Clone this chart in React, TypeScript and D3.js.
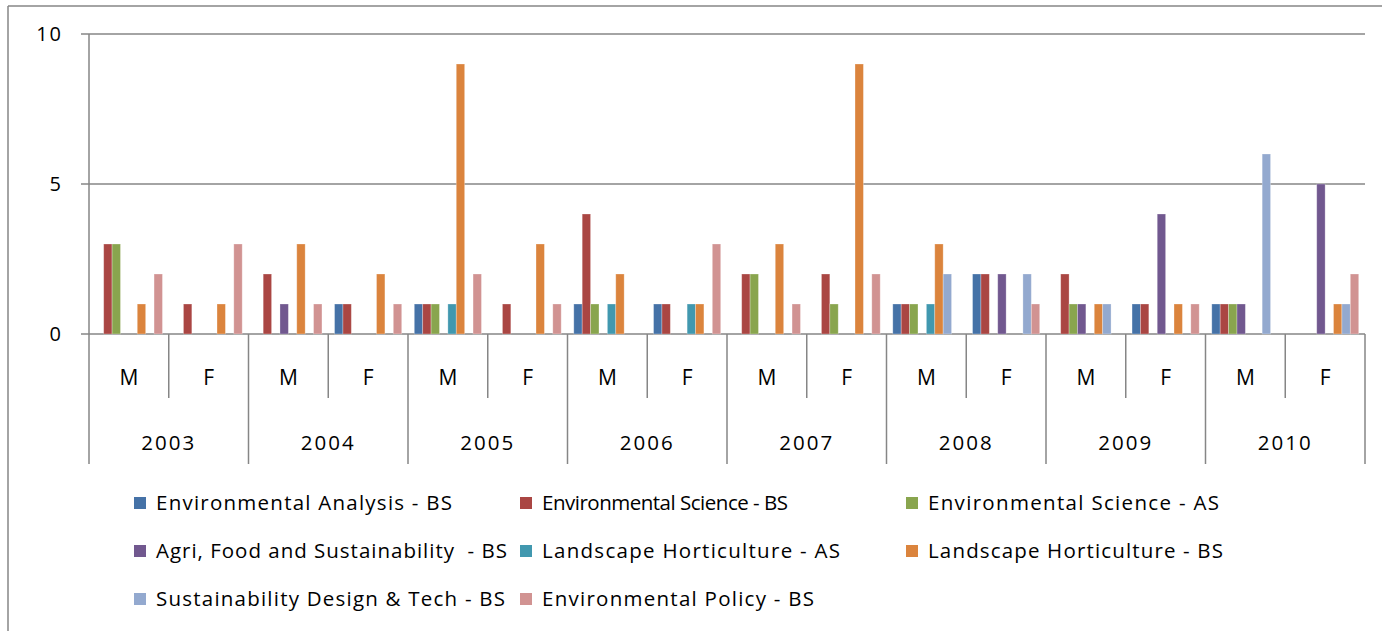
import React from "react";
import * as d3 from "d3";

const years = ["2003", "2004", "2005", "2006", "2007", "2008", "2009", "2010"];
const sexes = ["M", "F"];

const seriesNames = [
  "Environmental Analysis - BS",
  "Environmental Science - BS",
  "Environmental Science - AS",
  "Agri, Food and Sustainability  - BS",
  "Landscape Horticulture - AS",
  "Landscape Horticulture - BS",
  "Sustainability Design & Tech - BS",
  "Environmental Policy - BS",
];

const colors = ["#4572A7", "#AA4643", "#89A54E", "#71588F", "#4198AF", "#DB843D", "#93A9CF", "#D19392"];

// values per group: 2003M, 2003F, 2004M, 2004F, ... 2010M, 2010F
const envAnalysisBS = [0, 0, 0, 1, 1, 0, 1, 1, 0, 0, 1, 2, 0, 1, 1, 0];
const envScienceBS = [3, 1, 2, 1, 1, 1, 4, 1, 2, 2, 1, 2, 2, 1, 1, 0];
const envScienceAS = [3, 0, 0, 0, 1, 0, 1, 0, 2, 1, 1, 0, 1, 0, 1, 0];
const agriFoodBS = [0, 0, 1, 0, 0, 0, 0, 0, 0, 0, 0, 2, 1, 4, 1, 5];
const landHortAS = [0, 0, 0, 0, 1, 0, 1, 1, 0, 0, 1, 0, 0, 0, 0, 0];
const landHortBS = [1, 1, 3, 2, 9, 3, 2, 1, 3, 9, 3, 0, 1, 1, 0, 1];
const sustDesignBS = [0, 0, 0, 0, 0, 0, 0, 0, 0, 0, 2, 2, 1, 0, 6, 1];
const envPolicyBS = [2, 3, 1, 1, 2, 1, 0, 3, 1, 2, 0, 1, 0, 1, 0, 2];

const seriesValues = [envAnalysisBS, envScienceBS, envScienceAS, agriFoodBS, landHortAS, landHortBS, sustDesignBS, envPolicyBS];

const yTicks = [0, 5, 10];

const legendWidths = [296, 246, 291, 351, 298, 295, 349, 272];

export default function App() {
  const W = 1382, H = 631;
  const left = 89, right = 1365, top = 34, bottom = 334;
  const groups = years.flatMap((y) => sexes.map((s) => `${y}-${s}`));
  const x0 = d3.scaleBand<string>().domain(groups).range([left, right]).paddingInner(0).paddingOuter(0);
  const x1 = d3.scaleBand<number>().domain(d3.range(seriesNames.length)).range([0, x0.bandwidth()]).paddingInner(0).paddingOuter(0.75);
  const y = d3.scaleLinear().domain([0, 10]).range([bottom, top]);
  const grid = "#868686";
  const font = "'Open Sans', 'DejaVu Sans', sans-serif";
  const yearW = x0.bandwidth() * 2;

  const legendCols = [134, 520, 906];
  const legendRows = [503, 551, 599];

  return (
    <svg width={W} height={H} style={{ position: "absolute", left: 0, top: 0, background: "#fff" }} fontFamily={font}>
      <rect x={0} y={0} width={W} height={H} fill="#fff" />
      {/* outer border */}
      <line x1={8} y1={6} x2={W} y2={6} stroke={grid} strokeWidth={1.5} />
      <line x1={8} y1={6} x2={8} y2={H} stroke={grid} strokeWidth={1.5} />
      {/* gridlines */}
      {yTicks.map((t) => (
        <g key={t}>
          <line x1={81} x2={right} y1={y(t)} y2={y(t)} stroke={grid} strokeWidth={1.5} />
          <text x={63} y={y(t)} dy="0.35em" textAnchor="end" fontSize={20} letterSpacing={2} fill="#000">{t}</text>
        </g>
      ))}
      <line x1={left} x2={left} y1={top} y2={bottom} stroke={grid} strokeWidth={1.5} />
      {/* bars */}
      {seriesValues.map((vals, si) =>
        vals.map((v, gi) =>
          v > 0 ? (
            <rect
              key={`${si}-${gi}`}
              x={(x0(groups[gi]) as number) + (x1(si) as number)}
              y={y(v)}
              width={x1.bandwidth()}
              height={y(0) - y(v)}
              fill={colors[si]}
              stroke="#ffffff"
              strokeOpacity={0.35}
              strokeWidth={0.8}
            />
          ) : null
        )
      )}
      {/* category axis */}
      {groups.map((g, gi) => {
        const gx = x0(g) as number;
        const isYearStart = gi % 2 === 0;
        return (
          <g key={g}>
            <line x1={gx} x2={gx} y1={bottom} y2={isYearStart ? 464 : 398} stroke={grid} strokeWidth={1.5} />
            <text x={gx + x0.bandwidth() / 2} y={378} dy="0.35em" textAnchor="middle" fontSize={21} fill="#000">
              {sexes[gi % 2]}
            </text>
          </g>
        );
      })}
      <line x1={right} x2={right} y1={bottom} y2={464} stroke={grid} strokeWidth={1.5} />
      {years.map((yr, yi) => (
        <text key={yr} x={left + yearW * yi + yearW / 2} y={443} dy="0.35em" textAnchor="middle" fontSize={20.5} letterSpacing={2} fill="#000">
          {yr}
        </text>
      ))}
      {/* legend */}
      {seriesNames.map((name, i) => {
        const col = i % 3;
        const row = Math.floor(i / 3);
        const lx = legendCols[col];
        const ly = legendRows[row];
        return (
          <g key={name}>
            <rect x={lx} y={ly - 6} width={12} height={12} fill={colors[i]} />
            <text x={lx + 22} y={ly} dy="0.35em" fontSize={20.5} fill="#000" textLength={legendWidths[i]} lengthAdjust="spacing" style={{ whiteSpace: "pre" }}>
              {name}
            </text>
          </g>
        );
      })}
    </svg>
  );
}
